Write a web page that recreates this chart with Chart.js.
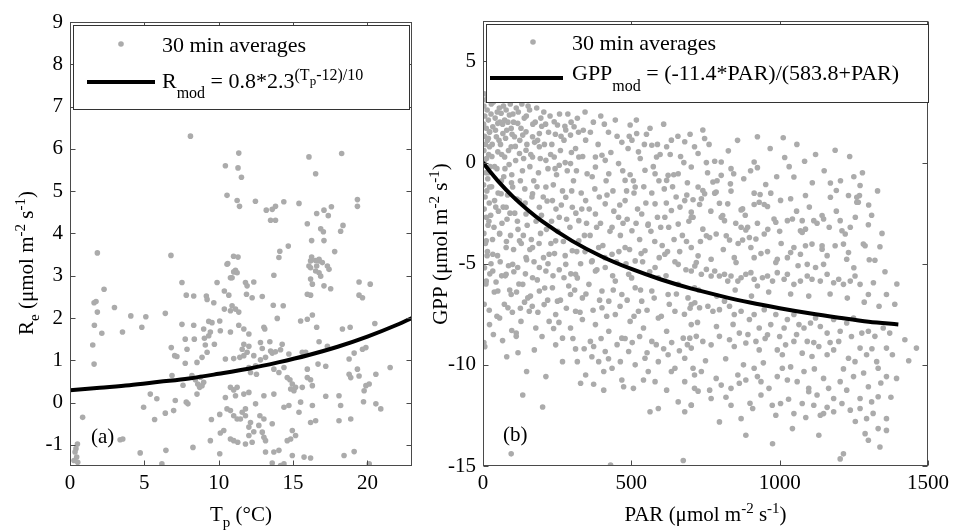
<!DOCTYPE html>
<html>
<head>
<meta charset="utf-8">
<script src="https://cdn.jsdelivr.net/npm/chart.js@4/dist/chart.umd.min.js"></script>
<style>
  body { margin: 0; background: #fff; width: 954px; height: 532px; position: relative; overflow: hidden; }
  .panel { position: absolute; top: 0; height: 532px; }
  #wrap-a { left: 0; width: 430px; }
  #wrap-b { left: 415px; width: 539px; }
</style>
</head>
<body>
<div class="panel" id="wrap-a"><canvas id="panel-a"></canvas></div>
<div class="panel" id="wrap-b"><canvas id="panel-b"></canvas></div>
<script>
// ---- panel (a): ecosystem respiration vs soil temperature ----
const tpTicks = [0, 5, 10, 15, 20];
const reTicks = [-1, 0, 1, 2, 3, 4, 5, 6, 7, 8, 9];
const reObs = [
  [8.1,6.3],[10.45,5.6],[11.35,5.9],[11.3,5.55],[10.56,4.9],[11.24,4.78],[11.4,4.64],[1.84,3.54],[6.79,3.48],[11.0,3.46],[11.3,3.44],[10.56,3.27],
  [11.53,5.33],[16.07,5.81],[18.27,5.89],[16.52,5.41],[12.47,4.76],[13.2,4.55],[13.6,4.57],[13.82,4.64],[14.38,4.75],[15.4,4.71],[13.49,4.31],[13.82,4.31],
  [15.96,4.23],[16.59,4.47],[17.08,4.55],[17.37,4.42],[17.58,4.63],[16.86,4.11],[17.04,4.04],[18.2,4.05],[18.36,4.19],[19.33,4.8],[19.33,4.64],[14.11,3.58],
  [14.68,3.7],[14.05,3.43],[16.25,3.83],[17.08,3.83],[17.8,3.57],[16.25,3.44],[16.52,3.36],[16.74,3.35],[16.07,3.23],[16.59,3.23],[17.31,3.23],
  [1.62,2.36],[1.75,2.39],[2.29,2.68],[2.99,2.25],[1.64,1.83],[1.84,2.14],[1.53,1.36],[1.62,0.91],[2.14,1.64],[3.53,1.67],[4.09,2.05],[4.83,1.78],
  [5.1,2.03],[6.41,2.11],[7.53,2.84],[7.82,2.54],[8.32,2.52],[7.53,1.85],[8.32,1.83],[6.81,1.3],[7.04,1.11],[7.19,1.09],[7.75,1.5],[7.87,1.26],
  [7.75,0.93],[8.36,1.5],[8.54,0.95],[8.99,1.74],[9.04,1.52],[9.1,1.36],[9.22,1.19],[9.33,1.58],[9.22,2.44],[9.17,2.52],[9.89,2.84],[9.67,2.36],
  [9.33,1.92],[9.55,1.89],[10.07,1.93],[9.44,1.67],[9.71,1.38],[8.88,1.07],[10.11,1.7],[10.38,2.64],[10.68,2.54],[10.79,2.95],[11.01,3.09],[11.13,3.13],
  [10.61,3.29],[10.38,2.21],[10.79,2.17],[11.13,2.21],[10.79,1.67],[10.45,1.03],[11.01,1.04],[8.2,0.64],[8.43,0.54],[8.59,0.44],[8.72,0.36],[8.88,0.4],
  [8.54,0.2],[6.86,0.64],[7.6,0.41],[8.77,0.6],[8.99,0.48],[5.4,0.2],[5.84,0.09],[4.95,-0.11],[7.08,0.05],[7.82,0.01],[7.93,-0.03],[6.41,-0.25],
  [6.97,-0.19],[5.69,-0.4],[0.85,-0.35],[9.51,-0.4],[10.07,-0.28],[10.56,-0.15],[10.79,-0.19],[11.01,-0.31],[11.24,-0.39],[10.79,0.36],[10.45,0.12],
  [11.13,0.16],[3.37,-0.88],[3.55,-0.86],[0.5,-0.98],[0.4,-1.09],[0.34,-1.17],[0.45,-1.29],[0.52,-1.41],[0.27,-1.37],[9.44,-0.9],[10.11,-0.72],
  [10.34,-0.66],[10.79,-0.86],[11.01,-0.9],[11.28,-0.94],[8.27,-1.06],[6.45,-1.13],[4.72,-1.19],[6.18,-1.45],[10.07,-1.21],
  [16.18,3.35],[16.75,3.39],[16.97,3.31],[11.24,3.07],[10.9,2.95],[16.18,3.19],[16.52,3.11],[16.75,3.07],[16.86,2.99],[17.42,3.15],[16.18,2.92],
  [16.3,2.8],[13.71,3.01],[11.8,2.84],[11.91,2.76],[12.36,2.85],[11.87,2.56],[12.25,2.48],[12.93,2.51],[15.96,2.56],[16.18,2.54],[17.08,2.76],
  [17.53,2.69],[19.44,2.85],[20.19,2.8],[19.44,2.54],[19.67,2.48],[13.67,2.3],[14.34,2.29],[11.35,2.14],[10.9,2.29],[13.94,1.99],[15.51,1.93],
  [15.96,1.97],[16.3,2.07],[11.35,1.83],[11.69,1.74],[12.03,1.62],[13.04,1.78],[13.1,1.74],[16.59,1.78],[18.32,1.74],[18.84,1.78],[20.5,1.87],
  [11.69,1.38],[12.03,1.33],[11.58,1.26],[11.91,1.19],[11.69,1.11],[11.42,1.07],[12.81,1.42],[12.93,1.28],[13.44,1.44],[13.49,1.22],[13.6,1.17],
  [13.82,1.2],[14.27,1.38],[14.16,1.25],[12.36,1.11],[12.81,1.01],[13.15,1.07],[14.72,1.15],[15.62,1.19],[15.85,1.19],[16.75,1.44],[17.31,1.33],
  [18.77,1.03],[19.11,1.17],[19.67,1.26],[19.9,1.3],[19.33,0.79],[21.53,0.83],[16.68,0.91],[17.2,0.86],[15.96,0.79],[12.48,0.87],[12.54,0.67],
  [12.03,0.83],[12.14,0.71],[13.71,0.79],[14.05,0.71],[14.39,0.83],[15.96,0.59],[16.18,0.54],[14.61,0.59],[14.79,0.54],[14.95,0.44],[14.84,0.32],
  [15.06,0.28],[15.17,0.36],[15.62,0.36],[16.3,0.4],[18.77,0.67],[18.88,0.59],[19.44,0.63],[19.9,0.4],[19.78,0.28],[20.12,0.44],[20.57,0.67],
  [11.69,0.2],[12.03,0.24],[11.24,0.36],[11.01,0.3],[12.48,-0.03],[11.8,-0.15],[11.58,-0.23],[11.8,-0.31],[13.71,0.2],[13.04,0.16],[14.39,-0.11],
  [14.72,-0.07],[15.51,0.01],[15.4,-0.23],[16.3,-0.07],[17.2,0.15],[18.09,0.16],[18.2,-0.07],[19.74,0.02],[20.57,-0.03],[20.9,-0.15],[11.46,-0.39],
  [12.14,-0.47],[12.03,-0.58],[13.04,-0.39],[12.77,-0.31],[13.6,-0.5],[16.18,-0.47],[16.52,-0.43],[18.09,-0.43],[18.88,-0.39],[12.7,-0.54],
  [12.93,-0.7],[13.04,-0.82],[13.15,-0.9],[12.03,-0.78],[12.36,-0.69],[12.25,-0.94],[11.8,-0.98],[14.95,-0.66],[14.84,-0.86],[14.61,-0.9],
  [15.17,-0.78],[13.71,-1.17],[14.05,-1.13],[13.15,-1.17],[14.95,-1.25],[13.6,-1.43],[14.16,-1.49],[14.39,-1.45],[15.74,-1.29],[16.18,-1.31],
  [18.43,-1.25],[19.11,-1.16],[20.12,-1.45]
];
const tpFit = [0, 2, 4, 6, 8, 10, 12, 14, 16, 18, 20, 22, 23];
const reFit = [0.29, 0.35, 0.41, 0.49, 0.57, 0.68, 0.80, 0.95, 1.12, 1.32, 1.56, 1.84, 2.0];

// ---- panel (b): gross primary production vs PAR ----
const parTicks = [0, 500, 1000, 1500];
const gppTicks = [-15, -10, -5, 0, 5];
const gppObs = [
  // near-zero PAR strip
  [4,3.4],[9,3.1],[3,2.8],[14,2.6],[6,2.3],[18,2.1],[2,1.9],[11,1.7],[22,1.5],[5,1.3],[15,1.1],[8,0.9],[3,0.6],[19,0.4],[12,0.2],[4,0.0],
  [24,-0.2],[9,-0.5],[16,-0.8],[2,-1.1],[13,-1.4],[7,-1.7],[21,-2.0],[4,-2.3],[11,-2.7],[17,-3.1],[3,-3.5],[8,-4.0],[14,-4.6],[5,-5.2],
  [10,-6.0],[4,-7.0],[3,-8.9],[6,-9.1],
  // 0 - 725, upper part
  [61,2.44],[78,2.6],[89,2.35],[73,2.1],[50,1.94],[33,1.77],[22,1.52],[45,1.28],[67,1.44],[95,1.69],[117,1.94],[106,1.28],[134,1.36],[145,1.52],
  [167,1.28],[190,1.44],[240,2.02],[251,1.86],[273,1.11],[295,1.36],[318,2.19],[307,1.77],[279,1.61],[346,1.11],[379,0.28],[401,0.36],[496,1.86],
  [518,1.44],[502,1.11],[524,0.53],[569,0.86],[585,0.28],[624,-0.63],[619,0.78],[635,1.11],[680,1.03],[713,0.78],
  [22,0.78],[50,0.53],[73,0.28],[95,0.78],[123,0.45],[145,0.61],[167,0.28],[190,0.78],[212,0.11],[240,0.28],[257,-0.13],[295,-0.05],[323,0.28],
  [351,-0.55],[379,-0.22],[412,0.11],[424,-0.55],[457,-0.05],[479,-0.88],[513,-1.21],[546,-0.38],[580,-0.55],[619,-0.88],[658,-0.55],[702,-0.22],[725,-1.21],
  [22,-1.21],[39,-1.88],[61,-1.54],[78,-2.21],[100,-1.21],[123,-1.88],[145,-2.54],[167,-1.54],[190,-2.21],[212,-1.21],[234,-1.88],[257,-2.7],
  [279,-1.71],[301,-2.21],[323,-2.87],[346,-1.88],[379,-2.54],[412,-2.04],[435,-3.2],[457,-2.7],[479,-1.88],[502,-3.37],[535,-2.54],[557,-3.04],
  [580,-2.04],[613,-2.7],[635,-2.37],[658,-3.04],[680,-1.88],[702,-2.7],
  [11,-3.87],[33,-4.53],[56,-3.53],[78,-4.2],[100,-5.03],[123,-3.87],[145,-4.69],[167,-4.2],[190,-5.19],[223,-4.53],[245,-3.87],[279,-5.03],
  [301,-4.36],[323,-3.87],[368,-4.86],[390,-4.2],[412,-5.19],[435,-4.53],[479,-4.2],[513,-4.86],[546,-4.36],[580,-5.19],[613,-4.53],[658,-5.03],[702,-4.2],
  [28,2.9],[41,2.2],[55,2.7],[66,1.9],[84,2.0],[101,2.4],[112,2.7],[128,1.7],[139,2.2],[152,2.8],[176,2.0],[184,1.1],[198,1.8],[205,2.5],[221,1.5],
  [232,0.9],[263,1.3],[286,2.4],[312,0.7],[338,1.6],
  [30,0.3],[47,-0.3],[59,0.9],[70,-0.7],[88,-0.1],[96,-1.0],[110,0.1],[133,-0.4],[141,-1.3],[158,-0.2],[171,-0.9],[187,-0.5],[203,-1.7],[219,-0.3],
  [237,-1.1],[248,-0.6],[268,-1.4],[284,-0.4],[305,-0.9],[331,-1.5],
  [26,-2.6],[37,-3.2],[52,-2.4],[64,-3.0],[81,-2.8],[93,-3.6],[107,-2.5],[118,-3.3],[136,-3.6],[149,-3.1],[163,-3.8],[179,-2.9],[194,-3.5],[214,-3.3],
  [229,-4.0],[252,-3.4],[271,-3.9],[293,-3.2],[316,-4.4],[342,-3.6],
  [23,-5.5],[44,-5.9],[58,-4.9],[75,-5.6],[90,-6.3],[104,-5.4],[121,-6.0],[143,-5.5],[160,-6.6],[183,-5.8],[208,-6.2],[236,-5.6],[261,-6.8],[289,-6.1],
  [318,-5.7],[347,-6.5],
  [362,1.5],[388,0.9],[409,1.9],[431,0.5],[452,1.3],[471,-0.4],[489,0.7],[507,-0.9],[530,0.2],[551,1.4],[574,-0.2],[597,0.4],[611,-1.3],[643,-0.6],
  [666,0.3],[689,-1.0],
  [358,-2.3],[377,-1.3],[396,-3.0],[418,-1.6],[441,-2.4],[463,-3.6],[486,-2.8],[509,-1.5],[528,-3.8],[549,-2.0],[566,-3.4],[588,-2.7],[604,-4.1],
  [626,-3.2],[651,-1.7],[672,-3.6],[694,-2.9],
  [366,-4.9],[384,-5.3],[411,-4.7],[437,-5.6],[458,-4.4],[482,-5.0],[501,-5.7],[538,-4.9],[562,-5.4],[594,-4.7],[617,-5.6],[647,-4.9],[684,-5.3],
  [16,3.2],[27,2.4],[35,3.0],[48,2.5],[57,2.0],[69,2.8],[80,1.6],[92,2.9],[103,2.0],[119,2.5],[131,2.9],[146,2.3],
  [18,1.2],[31,0.9],[42,1.6],[54,1.1],[63,0.4],[76,1.2],[86,0.6],[98,1.4],[109,0.8],[124,1.1],[137,0.2],[148,0.9],
  [17,-0.5],[29,-1.2],[39,-0.2],[51,-1.5],[62,-0.9],[74,-0.3],[83,-1.6],[97,-0.6],[114,-1.8],[126,-0.9],[142,-2.0],
  [20,-2.9],[32,-3.8],[43,-2.2],[56,-3.5],[68,-2.2],[79,-3.9],[91,-2.5],[103,-4.3],[116,-2.9],[129,-4.0],[147,-4.8],
  [15,-4.4],[27,-5.0],[38,-6.4],[49,-4.6],[63,-5.6],[72,-7.0],[86,-5.1],[99,-7.4],[113,-6.4],[126,-7.2],[140,-6.9],
  [21,-7.3],[35,-8.5],[47,-7.6],[66,-8.8],[80,-9.6],[97,-8.3],[118,-9.4],
  [157,2.6],[168,1.9],[181,2.7],[195,2.2],[211,1.9],[226,2.3],[244,1.4],[258,2.4],[276,1.8],[297,2.0],[322,1.5],[344,2.5],
  [161,0.4],[174,1.0],[193,0.2],[207,0.9],[228,0.4],[243,-0.3],[261,0.6],[277,0.0],[298,0.5],[315,-0.4],[336,0.3],
  [165,-1.7],[182,-1.2],[197,-2.6],[216,-1.9],[231,-2.9],[246,-2.3],[264,-2.1],[282,-2.8],[299,-1.4],[313,-2.5],[333,-2.3],[349,-3.0],
  [158,-4.3],[172,-4.9],[189,-4.0],[204,-4.7],[219,-5.0],[241,-4.5],[257,-5.3],[277,-4.6],[296,-5.5],[309,-6.3],[329,-5.0],[344,-4.4],
  [166,-7.1],[185,-7.4],[199,-8.6],[218,-6.8],[238,-8.2],[256,-7.9],[281,-7.2],[303,-8.7],[327,-7.4],[341,-9.2],
  [372,2.0],[397,2.3],[423,1.5],[446,2.1],[468,1.0],[493,1.3],[517,2.1],[544,0.9],[563,1.7],[588,0.9],[609,1.9],[631,0.4],[657,1.3],[677,0.0],[698,1.4],
  [368,-0.7],[392,-1.7],[415,-0.9],[438,-1.4],[461,-2.1],[484,-1.4],[496,-0.6],[521,-2.3],[542,-1.2],[569,-1.5],[593,-0.9],[618,-2.0],[639,-1.2],
  [664,-2.2],[687,-1.6],
  [361,-3.6],[383,-3.2],[404,-4.1],[428,-3.4],[450,-4.9],[472,-3.0],[494,-4.3],[516,-3.0],[533,-4.5],[556,-3.1],[579,-3.9],[599,-3.2],[622,-4.4],
  [644,-3.8],[663,-4.4],[686,-3.9],
  // 0 - 725, lower part
  [11,-5.86],[33,-5.36],[50,-6.35],[78,-5.52],[95,-6.52],[117,-5.19],[134,-6.02],[151,-6.69],[167,-5.69],[190,-6.35],[212,-5.36],[234,-6.19],
  [251,-6.85],[273,-5.69],[295,-6.52],[312,-5.52],[335,-6.69],[357,-6.02],[379,-5.36],[401,-6.35],[424,-6.85],[446,-5.86],[468,-6.52],[491,-5.52],
  [513,-6.19],[535,-6.85],[569,-6.35],[591,-5.69],[624,-6.52],[658,-6.02],[691,-6.69],[713,-6.19],
  [22,-8.01],[56,-7.68],[84,-7.18],[112,-8.43],[128,-7.85],[156,-7.35],[178,-8.18],[206,-7.02],[223,-7.85],[245,-7.51],[268,-8.68],[295,-8.18],
  [312,-7.35],[335,-7.76],[362,-8.84],[379,-8.01],[401,-7.18],[424,-8.34],[446,-7.51],[468,-8.68],[496,-7.85],[524,-7.35],[541,-8.18],[569,-8.84],
  [591,-7.68],[619,-8.34],[647,-7.35],[675,-8.68],[702,-8.01],
  [371,-7.3],[393,-6.8],[417,-7.6],[439,-6.3],[462,-7.1],[486,-6.8],[509,-7.6],[531,-6.3],[553,-7.3],[577,-6.7],[601,-7.6],[628,-7.0],[652,-6.5],
  [679,-7.5],[698,-7.2],
  [367,-9.6],[398,-8.7],[423,-9.7],[452,-9.0],[479,-8.7],[503,-8.9],[528,-8.6],[553,-9.4],[584,-9.0],[609,-9.2],[636,-8.9],[662,-9.3],[689,-9.0],
  [112,-8.59],[173,-9.26],[245,-9.01],[312,-9.21],[373,-9.09],[390,-9.84],[412,-9.34],[435,-10.17],[463,-9.84],[491,-9.34],[513,-10.0],[546,-9.67],
  [557,-10.33],[591,-9.84],[624,-9.5],[647,-10.17],[680,-9.67],[713,-10.5],[702,-9.17],[318,-9.84],[346,-10.5],[407,-10.33],[468,-10.75],[541,-10.75],
  [580,-10.83],[635,-10.33],[680,-10.83],[713,-11.16],[147,-10.33],[212,-10.58],[134,-11.49],[201,-12.08],[95,-14.4],[268,-9.84],[329,-10.91],
  [373,-10.96],[407,-11.25],[474,-11.08],[507,-11.16],[563,-12.32],[591,-12.16],[619,-11.25],[680,-12.32],[658,-11.83],[702,-11.99],[430,-14.95],[675,-14.73],
  // 700 - 1500, upper part
  [741,1.61],[747,1.19],[925,1.28],[1012,1.23],[1187,0.61],[725,0.45],[827,0.58],[753,0.0],[781,0.07],[803,0.03],[914,0.03],[925,-0.25],[1017,0.25],
  [1084,0.07],[836,-0.3],[845,-0.55],[803,-0.63],[775,-0.96],[1048,-0.71],[1171,-1.01],[1191,-1.38],[1271,-1.13],[953,-1.08],[834,-1.05],[836,-1.41],
  [914,-1.51],[934,-1.58],[970,-1.51],[1003,-1.87],[1037,-1.79],[1087,-1.63],[1171,-1.71],[1232,-1.63],[1260,-1.71],[1265,-1.96],[741,-1.38],
  [747,-1.54],[781,-1.51],[786,-1.46],[708,-1.84],[736,-1.79],[730,-2.07],[797,-2.01],[825,-2.04],[870,-2.34],[875,-2.29],[914,-2.07],[931,-1.96],
  [948,-2.07],[959,-2.17],[803,-2.7],[814,-2.87],[808,-2.62],[702,-2.45],[708,-2.7],[741,-3.29],[753,-3.62],[764,-3.7],[786,-3.53],[820,-3.62],
  [831,-3.83],[870,-3.2],[886,-3.33],[892,-3.2],[898,-3.7],[925,-3.0],[948,-3.53],[920,-3.78],[875,-3.83],[981,-2.79],[987,-2.95],[1026,-2.87],
  [1043,-2.79],[1076,-2.87],[1087,-3.29],[1070,-3.37],[1076,-3.45],[1115,-2.87],[1126,-3.0],[1143,-2.62],[1148,-2.79],[1048,-4.2],[1026,-4.7],
  [1037,-4.45],[1087,-4.11],[1109,-4.03],[1070,-4.53],[1143,-4.28],[1143,-4.11],[1204,-2.87],[1210,-3.37],[1221,-3.53],[1238,-3.2],[1260,-1.96],
  [1269,-1.63],[1282,-4.03],[1288,-4.11],[1299,-3.07],[1338,-4.16],[1321,-4.83],[1187,-4.11],[1215,-4.03],[1232,-4.45],[1226,-4.78],[959,-4.4],
  [987,-4.94],[992,-4.78],[903,-4.2],[914,-4.7],[847,-4.7],[853,-4.94],[725,-4.61],[719,-4.94],[769,-4.78],[1093,-5.03],[1121,-5.19],[1148,-5.03],
  [762,0.9],[858,1.1],[968,0.7],[1058,0.9],[1121,0.4],[1236,0.3],[1279,-0.5],[1330,-1.4],
  [757,-0.5],[789,-0.9],[879,-0.8],[902,-0.4],[990,-0.7],[1032,-0.2],[1110,-1.0],[1150,-0.4],[1205,-0.9],[1250,-0.7],[1300,-2.1],
  [768,-2.4],[852,-3.0],[884,-2.6],[960,-3.3],[1000,-3.4],[1057,-2.4],[1100,-2.2],[1167,-3.2],[1191,-2.4],[1255,-2.7],[1310,-2.6],[1345,-3.5],
  [733,-3.9],[810,-4.3],[860,-4.0],[937,-4.5],[1005,-4.0],[1062,-5.1],[1160,-4.6],[1250,-5.2],[1302,-4.8],[1355,-5.4],[1395,-6.0],
  // 700 - 1500, lower part
  [702,-5.36],[714,-5.11],[736,-5.52],[753,-5.28],[769,-5.61],[781,-5.36],[797,-5.61],[814,-5.52],[825,-5.86],[836,-5.61],[859,-5.86],[870,-5.69],
  [886,-5.52],[903,-5.44],[914,-5.77],[925,-6.1],[942,-5.69],[959,-5.61],[976,-5.86],[992,-5.44],[1015,-5.77],[1026,-5.52],[1048,-6.02],[1070,-5.86],
  [1093,-5.61],[1109,-5.77],[1137,-5.86],[1160,-5.52],[1182,-5.94],[1199,-5.77],[1215,-6.02],[1238,-5.86],[1254,-5.61],[1271,-6.02],[1299,-6.52],
  [1316,-5.94],[1360,-6.52],
  [727,-6.3],[788,-6.6],[850,-6.3],[905,-6.6],[963,-6.4],[1037,-6.5],[1098,-6.6],[1170,-6.5],[1228,-6.7],[1285,-6.9],[1335,-7.1],[1388,-7.0],
  [702,-7.02],[714,-6.93],[730,-7.18],[758,-7.1],[775,-7.35],[797,-7.27],[814,-6.85],[831,-7.1],[847,-7.51],[870,-7.35],[898,-7.76],[914,-7.51],
  [931,-8.18],[948,-7.27],[970,-8.01],[987,-7.51],[1015,-8.18],[1026,-7.76],[1048,-7.51],[1065,-8.01],[1082,-8.18],[1104,-7.93],[1121,-7.68],
  [1137,-8.1],[1160,-8.43],[1182,-7.76],[1204,-8.34],[1226,-7.93],[1249,-7.68],[1277,-8.43],[1299,-8.34],[1321,-8.59],[1349,-8.18],[1371,-8.43],
  [1422,-8.76],[1461,-9.17],
  [723,-7.9],[787,-8.1],[843,-8.0],[893,-8.5],[951,-8.7],[1000,-8.6],[1057,-8.5],[1115,-8.9],[1170,-8.9],[1242,-8.6],[1311,-9.2],[1380,-9.5],[1435,-9.8],
  [697,-8.68],[719,-8.59],[741,-8.84],[769,-9.01],[797,-8.59],[831,-8.76],[847,-9.09],[864,-8.43],[886,-8.92],[920,-8.84],[931,-9.26],[959,-8.51],
  [992,-9.26],[1009,-9.5],[1020,-9.01],[1048,-8.84],[1076,-9.42],[1093,-8.84],[1109,-9.59],[1132,-9.09],[1160,-9.5],[1182,-9.26],[1199,-8.84],
  [1232,-9.67],[1254,-9.84],[1271,-9.17],[1293,-9.5],[1327,-9.84],[1332,-10.17],[1360,-9.17],
  [750,-9.8],[818,-9.7],[878,-10.0],[945,-9.9],[1037,-10.1],[1117,-10.2],[1215,-10.2],[1283,-10.4],[1341,-10.9],
  [708,-10.17],[736,-10.33],[764,-11.25],[786,-10.67],[803,-11.0],[836,-11.16],[859,-10.5],[864,-10.91],[886,-10.75],[914,-10.17],[925,-10.58],
  [937,-10.83],[964,-11.16],[992,-10.58],[1009,-10.17],[1026,-10.75],[1059,-10.83],[1082,-10.33],[1098,-11.16],[1126,-11.49],[1148,-10.67],
  [1165,-11.16],[1182,-11.66],[1204,-10.83],[1226,-11.25],[1249,-10.58],[1271,-11.66],[1299,-11.08],[1332,-11.58],[1360,-10.58],[1394,-10.67],
  [725,-11.3],[819,-11.6],[900,-11.9],[975,-12.0],[1030,-11.7],[1088,-12.6],[1160,-12.1],[1255,-12.8],[1315,-12.4],[1375,-11.6],
  [702,-12.0],[769,-11.66],[797,-12.82],[836,-12.0],[870,-12.66],[886,-13.48],[909,-12.16],[937,-11.49],[987,-12.49],[1003,-11.91],[1048,-12.41],
  [1076,-11.91],[1098,-11.33],[1115,-12.0],[1137,-12.49],[1148,-12.41],[1182,-12.32],[1210,-11.91],[1238,-12.24],[1271,-12.16],[1293,-12.66],
  [1310,-11.83],[1332,-13.15],[1360,-12.66],[1360,-13.24],
  [976,-13.9],[1132,-13.48],[1204,-14.65],[1215,-14.4],[1288,-13.4],[1299,-13.73],[1338,-14.06],[1043,-13.15]
];
const parFit = [0, 25, 50, 100, 150, 200, 300, 400, 500, 600, 700, 800, 900, 1000, 1100, 1200, 1300, 1400];
const gppFit = [0, -0.47, -0.9, -1.67, -2.33, -2.91, -3.87, -4.64, -5.26, -5.78, -6.22, -6.59, -6.92, -7.2, -7.45, -7.67, -7.87, -8.0];

const SERIF = '"Liberation Serif", "Times New Roman", serif';
const DOT_GREY = '#ababab';
const FRAME = '#4a4a4a';

// draw a run of text pieces [text, size, dy] (sub/superscripts)
function richText(ctx, parts, x, y, align) {
  let w = 0;
  parts.forEach(p => { ctx.font = p[1] + 'px ' + SERIF; w += ctx.measureText(p[0]).width; });
  let cx = align === 'center' ? x - w / 2 : x;
  ctx.textAlign = 'left';
  ctx.textBaseline = 'alphabetic';
  parts.forEach(p => {
    ctx.font = p[1] + 'px ' + SERIF;
    ctx.fillText(p[0], cx, y + p[2]);
    cx += ctx.measureText(p[0]).width;
  });
}

function decorPlugin(cfg) {
  return {
    id: 'decor',
    afterDraw(chart) {
      const ctx = chart.ctx;
      const ca = chart.chartArea;
      const xs = chart.scales.x, ys = chart.scales.y;
      ctx.save();
      // frame with inward ticks on all four sides
      ctx.strokeStyle = FRAME;
      ctx.lineWidth = 1;
      const l = Math.round(ca.left) + 0.5, r = Math.round(ca.right) - 0.5;
      const t = Math.round(ca.top) + 0.5, b = Math.round(ca.bottom) - 0.5;
      ctx.strokeRect(l, t, r - l, b - t);
      ctx.beginPath();
      cfg.xTicks.forEach(v => {
        const px = Math.round(xs.getPixelForValue(v)) + 0.5;
        ctx.moveTo(px, b); ctx.lineTo(px, b - 5);
        ctx.moveTo(px, t); ctx.lineTo(px, t + 5);
      });
      cfg.yTicks.forEach(v => {
        const py = Math.round(ys.getPixelForValue(v)) + 0.5;
        ctx.moveTo(l, py); ctx.lineTo(l + 5, py);
        ctx.moveTo(r, py); ctx.lineTo(r - 5, py);
      });
      ctx.stroke();

      // legend box
      const lg = cfg.legend;
      ctx.fillStyle = '#fff';
      ctx.fillRect(lg.x, lg.y, lg.w, lg.h);
      ctx.strokeStyle = '#333';
      ctx.strokeRect(lg.x + 0.5, lg.y + 0.5, lg.w, lg.h);
      ctx.fillStyle = DOT_GREY;
      ctx.beginPath();
      ctx.arc(lg.dotX, lg.row1 - 8, 2.8, 0, Math.PI * 2);
      ctx.fill();
      ctx.strokeStyle = '#000';
      ctx.lineWidth = 4;
      ctx.beginPath();
      ctx.moveTo(lg.lineX0, lg.lineY); ctx.lineTo(lg.lineX1, lg.lineY);
      ctx.stroke();
      ctx.fillStyle = '#000';
      richText(ctx, [['30 min averages', 22, 0]], lg.textX, lg.row1, 'left');
      richText(ctx, cfg.fitLabel, lg.textX, lg.row2, 'left');

      // panel tag
      richText(ctx, [[cfg.tag[0], 21, 0]], cfg.tag[1], cfg.tag[2], 'left');

      // axis titles
      richText(ctx, cfg.xTitle, (ca.left + ca.right) / 2, 521, 'center');
      ctx.translate(cfg.yTitlePos[0], cfg.yTitlePos[1]);
      ctx.rotate(-Math.PI / 2);
      richText(ctx, cfg.yTitle, 0, 0, 'center');
      ctx.restore();
    }
  };
}

function makeScales(xMin, xMax, xTicks, yMin, yMax, yTicks, yWidth) {
  const tickFont = { family: SERIF, size: 21 };
  return {
    x: {
      type: 'linear', min: xMin, max: xMax,
      grid: { display: false, drawTicks: false },
      border: { display: false },
      ticks: { font: tickFont, color: '#000', padding: 5, maxRotation: 0, callback: v => String(v) },
      afterBuildTicks: s => { s.ticks = xTicks.map(v => ({ value: v })); },
      afterFit: s => { s.height = 66; }
    },
    y: {
      type: 'linear', min: yMin, max: yMax,
      grid: { display: false, drawTicks: false },
      border: { display: false },
      ticks: { font: tickFont, color: '#000', padding: 7, callback: v => String(v) },
      afterBuildTicks: s => { s.ticks = yTicks.map(v => ({ value: v })); },
      afterFit: s => { s.width = yWidth; }
    }
  };
}

function makeChart(id, obs, fitX, fitY, scales, padding, decor) {
  return new Chart(document.getElementById(id), {
    type: 'scatter',
    data: {
      datasets: [
        {
          data: fitX.map((x, i) => ({ x, y: fitY[i] })),
          showLine: true,
          borderColor: '#000',
          borderWidth: 4,
          pointRadius: 0,
          cubicInterpolationMode: 'monotone',
          order: 0
        },
        {
          data: obs.map(([x, y]) => ({ x, y })),
          pointRadius: 2.8,
          pointBackgroundColor: DOT_GREY,
          pointBorderWidth: 0,
          order: 1
        }
      ]
    },
    options: {
      responsive: true,
      maintainAspectRatio: false,
      animation: false,
      events: [],
      layout: { padding },
      plugins: { legend: { display: false }, tooltip: { enabled: false } },
      scales
    },
    plugins: [decorPlugin(decor)]
  });
}

makeChart('panel-a', reObs, tpFit, reFit,
  makeScales(0, 23, tpTicks, -1.5, 9, reTicks, 70),
  { left: 0, top: 22, right: 18, bottom: 0 },
  {
    xTicks: tpTicks, yTicks: reTicks,
    legend: { x: 73, y: 25, w: 336, h: 84, dotX: 121, row1: 52, row2: 88, lineX0: 87, lineX1: 155, lineY: 82, textX: 162 },
    fitLabel: [['R', 22, 0], ['mod', 16, 10], [' = 0.8*2.3', 22, 0], ['(T', 16, -8], ['p', 13, -3], ['-12)/10', 16, -8]],
    tag: ['(a)', 91, 443],
    xTitle: [['T', 21, 0], ['p', 15, 6], [' (°C)', 21, 0]],
    yTitle: [['R', 21, 0], ['e', 15, 6], [' (μmol m', 21, 0], ['-2', 15, -8], [' s', 21, 0], ['-1', 15, -8], [')', 21, 0]],
    yTitlePos: [33, 263]
  });

makeChart('panel-b', gppObs, parFit, gppFit,
  makeScales(0, 1500, parTicks, -15, 7, gppTicks, 68),
  { left: 0, top: 21, right: 22, bottom: 0 },
  {
    xTicks: parTicks, yTicks: gppTicks,
    legend: { x: 71, y: 24, w: 442, h: 78, dotX: 118, row1: 50, row2: 80, lineX0: 75, lineX1: 148, lineY: 78, textX: 157 },
    fitLabel: [['GPP', 22, 0], ['mod', 16, 11], [' = (-11.4*PAR)/(583.8+PAR)', 22, 0]],
    tag: ['(b)', 88, 441],
    xTitle: [['PAR (μmol m', 21, 0], ['-2', 15, -8], [' s', 21, 0], ['-1', 15, -8], [')', 21, 0]],
    yTitle: [['GPP (μmol m', 21, 0], ['-2', 15, -8], [' s', 21, 0], ['-1', 15, -8], [')', 21, 0]],
    yTitlePos: [32, 244]
  });
</script>
</body>
</html>
